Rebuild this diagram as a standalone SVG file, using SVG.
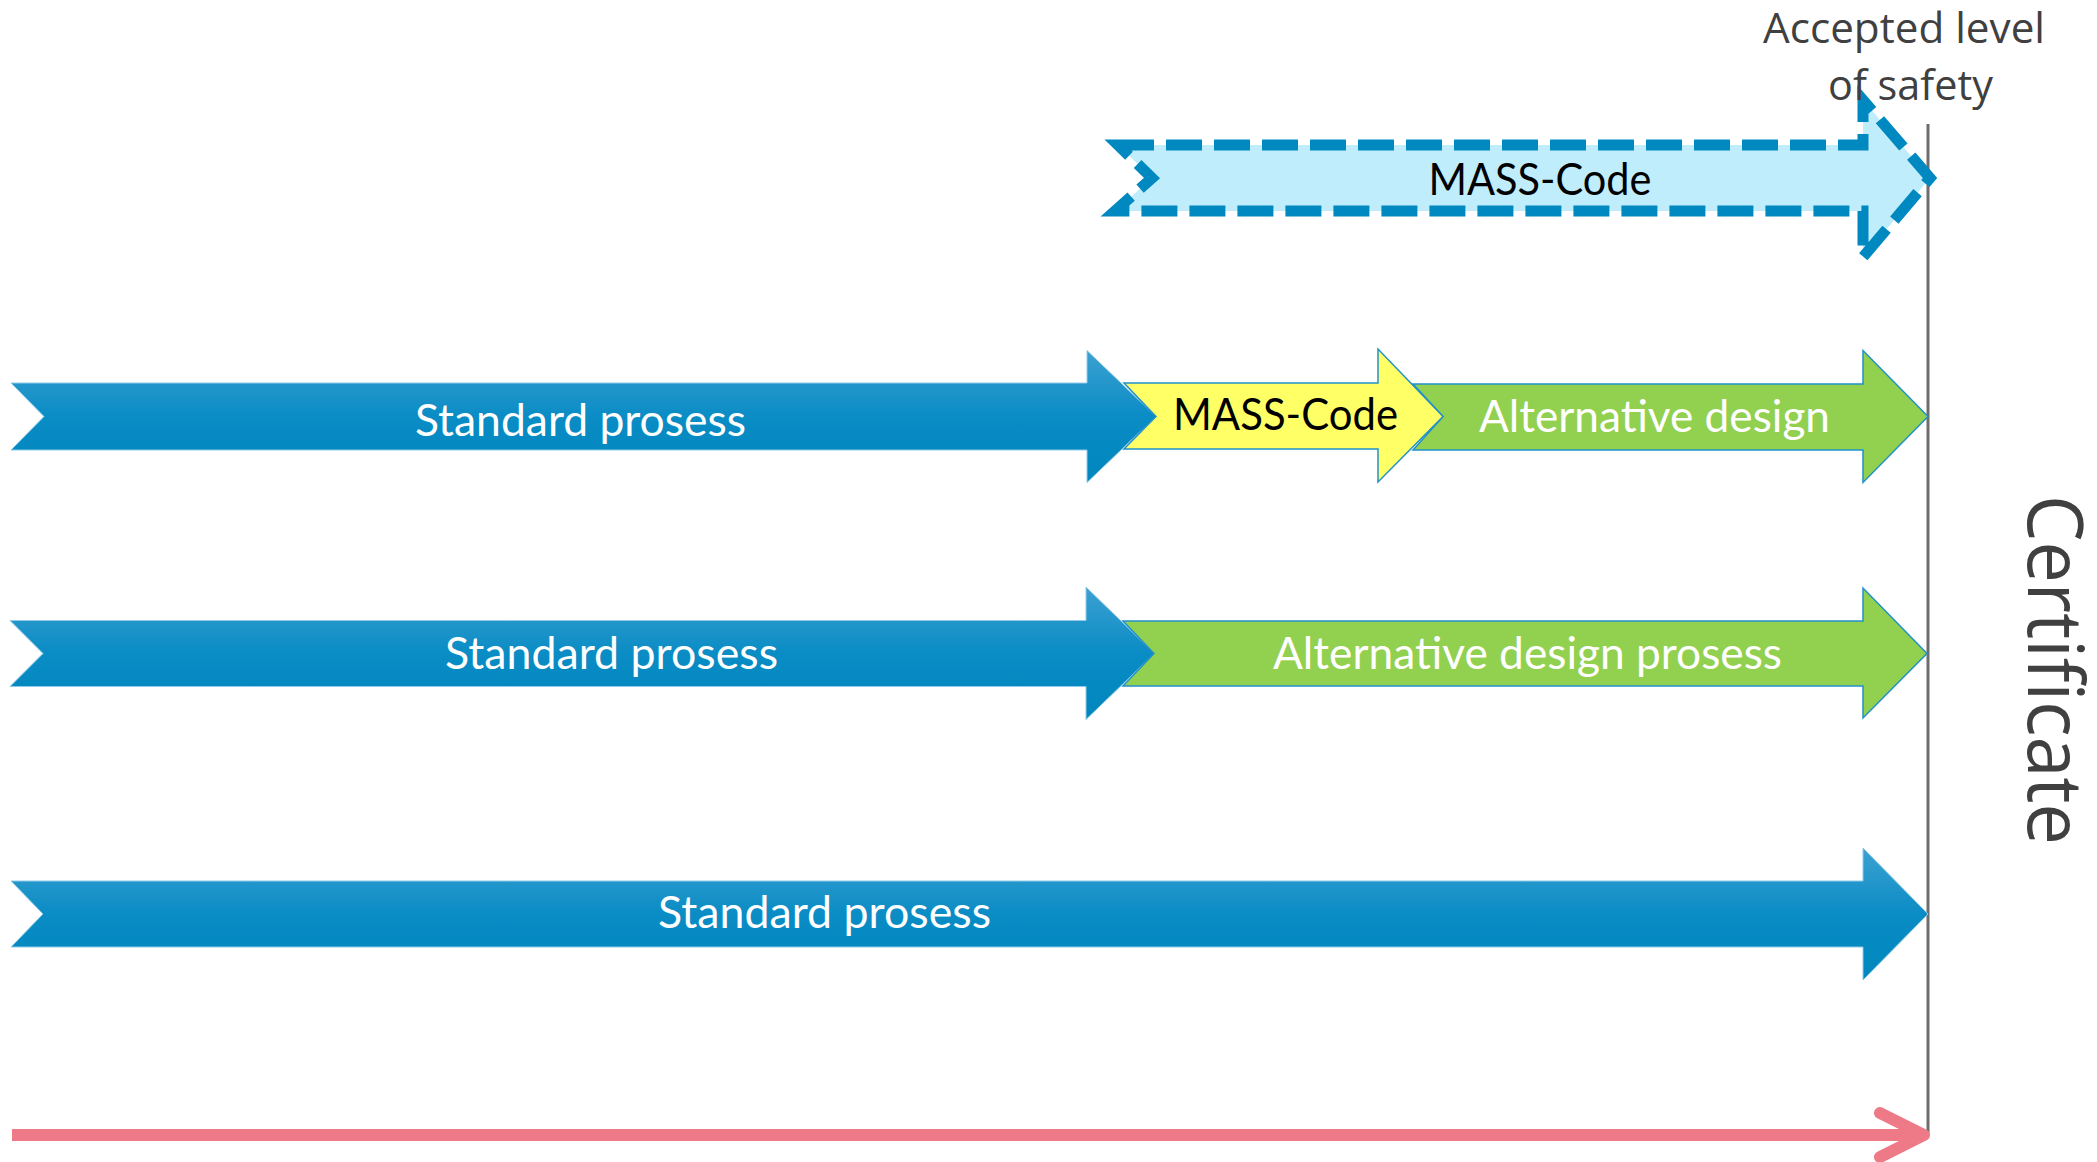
<svg xmlns="http://www.w3.org/2000/svg" width="2097" height="1162" viewBox="0 0 2097 1162">
  <defs>
    <linearGradient id="blueGrad" x1="0" y1="0" x2="0" y2="1">
      <stop offset="0" stop-color="#3da1d1"/>
      <stop offset="0.5" stop-color="#0a8cc5"/>
      <stop offset="1" stop-color="#0086bd"/>
    </linearGradient>
  </defs>
  <style>
    .blue { fill: url(#blueGrad); stroke: #8fcbe8; stroke-width: 1; }
    .green { fill: #92d050; stroke: #2191c8; stroke-width: 1.5; }
    .yellow { fill: #ffff66; stroke: #2191c8; stroke-width: 1.5; }
    .dashed { fill: #c0edfb; stroke: #0089c0; stroke-width: 11; stroke-dasharray: 36 12; stroke-linejoin: miter; }
    .lbl { font-family: Lato, "Open Sans", "Liberation Sans", sans-serif; font-size: 44px; text-anchor: middle; }
    .white { fill: #ffffff; }
    .black { fill: #000000; }
    .gray { font-family: "Open Sans", "Liberation Sans", sans-serif; fill: #404040; text-anchor: middle; }
    .pink { fill: none; stroke: #ef7a87; stroke-width: 12; }
  </style>
  <rect x="0" y="0" width="2097" height="1162" fill="#ffffff"/>

  <g id="connectors">
    <line x1="1928" y1="124" x2="1928" y2="1133" stroke="#6e6e6e" stroke-width="3"/>
    <line class="pink" x1="12" y1="1135" x2="1920" y2="1135" stroke-linecap="butt"/>
    <polyline class="pink" points="1880,1113 1924,1135 1880,1157" stroke-linecap="round" stroke-linejoin="round"/>
  </g>

  <g id="mass-code-dashed">
    <path class="dashed" d="M1118,145 L1863,145 L1863,100 L1930,178 L1863,257 L1863,211 L1115,211 L1152,178 Z"/>
    <text class="lbl black" x="1540" y="195" textLength="223" lengthAdjust="spacingAndGlyphs">MASS-Code</text>
  </g>

  <g id="row1-standard">
    <path class="blue" d="M11,383 L1087,383 L1087,350.5 L1156,416.5 L1087,482.5 L1087,450 L11,450 L44,416.5 Z"/>
    <text class="lbl white" x="580.5" y="436" textLength="331" lengthAdjust="spacingAndGlyphs">Standard prosess</text>
  </g>
  <g id="row1-alternative">
    <path class="green" d="M1413,384 L1863,384 L1863,350.5 L1928,416.5 L1863,482.5 L1863,450 L1413,450 L1443,416.5 Z"/>
    <text class="lbl white" x="1654.5" y="432" textLength="351" lengthAdjust="spacingAndGlyphs">Alternative design</text>
  </g>
  <g id="row1-mass-code">
    <path class="yellow" d="M1124,383 L1378,383 L1378,349 L1443,416.5 L1378,482 L1378,449 L1124,449 L1156,416.5 Z"/>
    <text class="lbl black" x="1285.5" y="430" textLength="225" lengthAdjust="spacingAndGlyphs">MASS-Code</text>
  </g>

  <g id="row2-standard">
    <path class="blue" d="M10,620.5 L1086,620.5 L1086,587 L1154.5,653.5 L1086,719.5 L1086,686.5 L10,686.5 L43,653.5 Z"/>
    <text class="lbl white" x="611.5" y="669" textLength="333" lengthAdjust="spacingAndGlyphs">Standard prosess</text>
  </g>
  <g id="row2-alternative">
    <path class="green" d="M1123,621 L1863,621 L1863,588 L1927,653.5 L1863,718 L1863,686 L1123,686 L1154,653.5 Z"/>
    <text class="lbl white" x="1527.5" y="669" textLength="509" lengthAdjust="spacingAndGlyphs">Alternative design prosess</text>
  </g>

  <g id="row3-standard">
    <path class="blue" d="M11,881 L1863,881 L1863,848 L1928,914 L1863,980 L1863,947 L11,947 L43,914 Z"/>
    <text class="lbl white" x="824.5" y="928" textLength="333" lengthAdjust="spacingAndGlyphs">Standard prosess</text>
  </g>

  <g id="accepted-level">
    <text class="gray" x="1904" y="43" font-size="42" textLength="282" lengthAdjust="spacingAndGlyphs">Accepted level</text>
    <text class="gray" x="1910.5" y="100" font-size="42" textLength="165" lengthAdjust="spacingAndGlyphs">of safety</text>
  </g>

  <g id="certificate">
    <text class="gray" transform="translate(2028,670) rotate(90)" x="0" y="0" font-size="76" textLength="350" lengthAdjust="spacingAndGlyphs">Certificate</text>
  </g>
</svg>
